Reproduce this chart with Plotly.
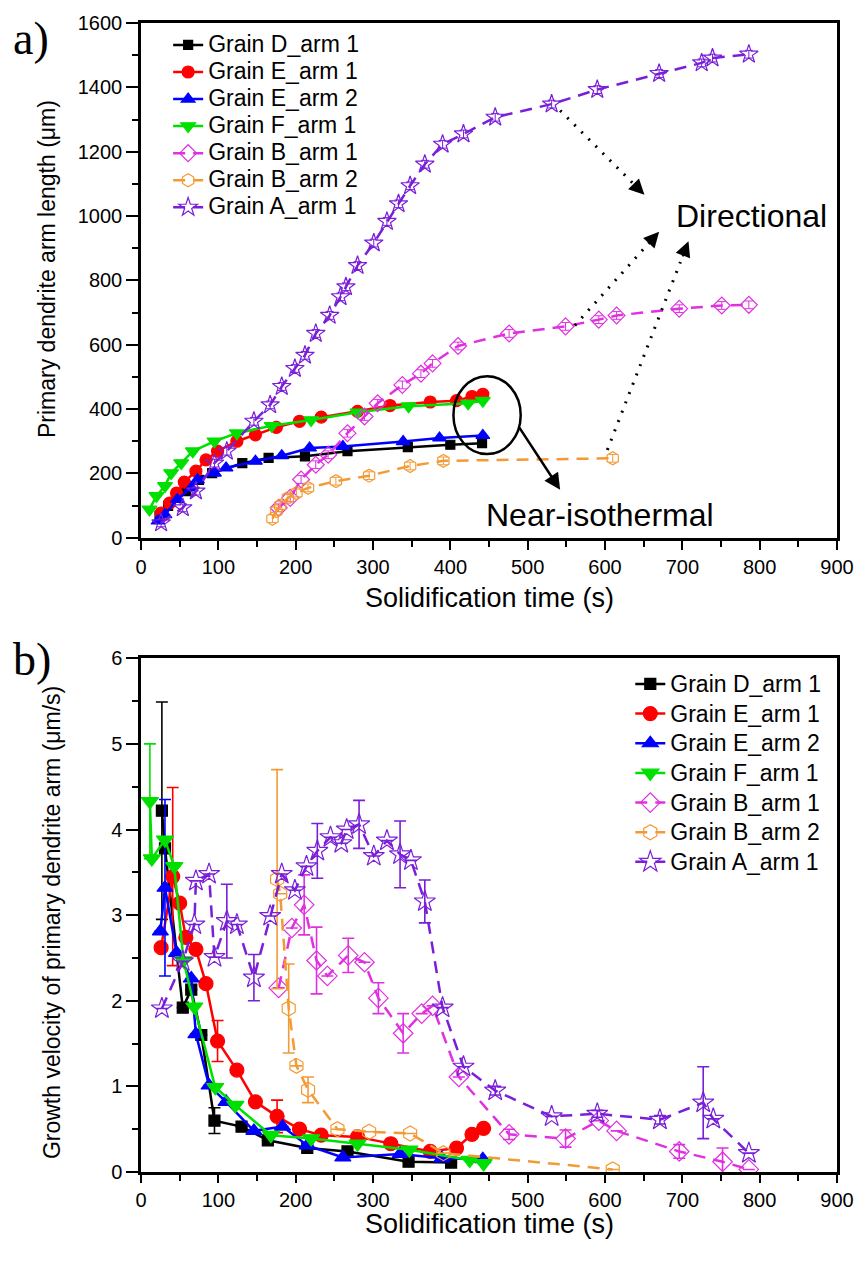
import plotly.graph_objects as go

# ---------------- Panel a: arm length vs time ----------------
names = ["Grain D_arm 1", "Grain E_arm 1", "Grain E_arm 2", "Grain F_arm 1",
         "Grain B_arm 1", "Grain B_arm 2", "Grain A_arm 1"]

a_D_x = [24, 35, 58, 75, 92, 131, 165, 212, 267, 345, 400, 441]
a_D_y = [68, 99, 145, 180, 201, 232, 248, 253, 269, 282, 289, 294]
a_E1_x = [26, 37, 46, 56, 71, 84, 99, 124, 148, 175, 205, 233, 280, 322, 374, 408, 428, 442]
a_E1_y = [77, 108, 139, 173, 207, 242, 269, 300, 320, 343, 362, 375, 393, 411, 422, 426, 439, 446]
a_E2_x = [22, 31, 47, 65, 73, 95, 110, 148, 182, 218, 261, 339, 386, 442]
a_E2_y = [52, 72, 119, 155, 180, 201, 217, 238, 255, 279, 284, 299, 310, 318]
a_F1_x = [11, 20, 31, 39, 52, 67, 95, 124, 169, 220, 280, 346, 423, 442]
a_F1_y = [88, 130, 161, 201, 232, 269, 300, 325, 348, 366, 390, 409, 418, 426]
a_B1_x = [178, 193, 207, 226, 242, 267, 289, 306, 338, 362, 377, 410, 476, 549, 592, 615, 696, 751, 786]
a_B1_y = [93, 124, 181, 227, 258, 325, 377, 418, 475, 510, 542, 596, 635, 657, 678, 691, 712, 722, 724]
a_B2_x = [170, 175, 180, 190, 201, 216, 252, 295, 348, 391, 610]
a_B2_y = [59, 83, 100, 124, 139, 155, 176, 193, 223, 239, 247]
a_A1_x = [26, 54, 71, 95, 111, 146, 167, 182, 199, 212, 226, 244, 258, 265, 280, 301, 318,
          333, 348, 367, 390, 417, 458, 531, 590, 670, 725, 739, 786]
a_A1_y = [46, 93, 145, 232, 269, 362, 413, 470, 526, 567, 635, 691, 749, 780, 846, 916, 983,
          1038, 1094, 1161, 1223, 1255, 1307, 1348, 1393, 1443, 1476, 1491, 1503]
a_open_err = 12  # small error bars on the open markers (um)

# ---------------- Panel b: growth velocity vs time ----------------
b_D_x = [27, 31, 54, 65, 78, 95, 130, 164, 215, 267, 346, 401]
b_D_y = [4.22, 3.78, 1.92, 2.13, 1.60, 0.60, 0.53, 0.37, 0.28, 0.24, 0.12, 0.11]
b_D_e = [1.27, 0, 0, 0, 0, 0.15, 0, 0, 0, 0, 0, 0]
b_E1_x = [26, 41, 50, 58, 71, 84, 99, 124, 148, 176, 205, 233, 280, 323, 374, 408, 428, 443]
b_E1_y = [2.62, 3.45, 3.14, 2.74, 2.60, 2.20, 1.53, 1.19, 0.82, 0.65, 0.50, 0.43, 0.41, 0.33, 0.24, 0.28, 0.44, 0.51]
b_E1_e = [0, 1.04, 0, 0, 0, 0, 0.24, 0, 0, 0.19, 0, 0, 0, 0, 0, 0, 0, 0]
b_E2_x = [25, 31, 46, 65, 71, 88, 110, 146, 183, 215, 261, 335, 389, 442]
b_E2_y = [2.81, 3.32, 2.56, 2.26, 1.61, 1.01, 0.82, 0.48, 0.53, 0.31, 0.17, 0.21, 0.16, 0.15]
b_E2_e = [0, 1.03, 0, 0, 0, 0, 0, 0, 0, 0, 0, 0, 0, 0]
b_F1_x = [11.5, 14, 31, 43, 55, 69, 96, 122, 168, 220, 280, 347, 425, 443]
b_F1_y = [4.33, 3.66, 3.88, 3.57, 2.47, 1.93, 0.99, 0.78, 0.43, 0.39, 0.33, 0.26, 0.14, 0.10]
b_F1_e = [0.67, 0, 0, 0, 0, 0, 0, 0, 0, 0, 0, 0, 0, 0]
b_B1_x = [178, 195, 211, 227, 241, 268, 289, 307, 339, 363, 377, 411, 476, 549, 592, 615, 696, 752, 786]
b_B1_y = [2.15, 2.85, 3.12, 2.47, 2.29, 2.53, 2.45, 2.03, 1.62, 1.85, 1.94, 1.11, 0.44, 0.39, 0.60, 0.48, 0.24, 0.12, 0.03]
b_B1_e = [0, 0, 0.35, 0.39, 0, 0.20, 0, 0.18, 0.23, 0, 0, 0, 0.06, 0.10, 0, 0, 0.08, 0.16, 0]
b_B2_x = [176, 180, 191, 201, 216, 254, 295, 348, 391, 610]
b_B2_y = [3.42, 3.25, 1.91, 1.24, 0.96, 0.50, 0.47, 0.45, 0.22, 0.03]
b_B2_e = [1.28, 0, 0.52, 0, 0.15, 0, 0, 0, 0, 0]
b_A1_x = [27, 54, 69, 71, 88, 95, 111, 124, 146, 167, 182, 199, 214, 228, 245, 259, 266, 282,
          301, 318, 335, 349, 367, 390, 417, 458, 531, 590, 671, 727, 740, 786]
b_A1_y = [1.91, 2.46, 2.89, 3.40, 3.48, 2.51, 2.93, 2.89, 2.27, 2.99, 3.48, 3.29, 3.57, 3.75,
          3.91, 3.84, 4.00, 4.06, 3.69, 3.87, 3.71, 3.64, 3.16, 1.92, 1.23, 0.95, 0.65, 0.68,
          0.61, 0.81, 0.62, 0.22]
b_A1_e = [0, 0, 0, 0, 0, 0, 0.43, 0, 0.27, 0, 0, 0, 0, 0.32, 0, 0, 0, 0.28, 0, 0, 0.39, 0,
          0.25, 0, 0, 0.05, 0, 0.04, 0.05, 0.42, 0, 0]

colors = ["#000000", "#ff0000", "#0000ff", "#00e000", "#e030e0", "#f39a35", "#7a1ed8"]
symbols = ["square", "circle", "triangle-up", "triangle-down", "diamond-open", "hexagon-open", "star-open"]
dashes = [None, None, None, None, "12px,8px", "12px,8px", "12px,8px"]

FONT = "Liberation Sans, Arial, sans-serif"
SERIF = "Liberation Serif, Times New Roman, serif"


def legend_label(name, px):
    return '<span style="font-size:%dpx">%s</span>' % (px, name)


fig = go.Figure()

a_sets = [(a_D_x, a_D_y), (a_E1_x, a_E1_y), (a_E2_x, a_E2_y), (a_F1_x, a_F1_y),
          (a_B1_x, a_B1_y), (a_B2_x, a_B2_y), (a_A1_x, a_A1_y)]
b_sets = [(b_D_x, b_D_y, b_D_e), (b_E1_x, b_E1_y, b_E1_e), (b_E2_x, b_E2_y, b_E2_e),
          (b_F1_x, b_F1_y, b_F1_e), (b_B1_x, b_B1_y, b_B1_e), (b_B2_x, b_B2_y, b_B2_e),
          (b_A1_x, b_A1_y, b_A1_e)]

a_sizes = [9, 12, 12, 13, 13, 13, 14]
b_sizes = [11, 14, 14, 15, 15, 15, 16]

for i, (xs, ys) in enumerate(a_sets):
    opn = i >= 4
    fig.add_trace(go.Scatter(
        x=xs, y=ys, mode="lines+markers", name=legend_label(names[i], 23),
        line=dict(color=colors[i], width=2.5, dash=dashes[i]),
        marker=dict(symbol=symbols[i], size=a_sizes[i], color=colors[i],
                    line=dict(width=1.2, color=colors[i])),
        error_y=dict(type="constant", value=a_open_err, color=colors[i], thickness=1,
                     width=4, visible=opn),
        xaxis="x", yaxis="y", legend="legend", showlegend=True))

for i, (xs, ys, es) in enumerate(b_sets):
    fig.add_trace(go.Scatter(
        x=xs, y=ys, mode="lines+markers", name=legend_label(names[i], 23),
        line=dict(color=colors[i], width=2.5, dash=dashes[i]),
        marker=dict(symbol=symbols[i], size=b_sizes[i], color=colors[i],
                    line=dict(width=1.2, color=colors[i])),
        error_y=dict(type="data", array=es, symmetric=True, color=colors[i],
                     thickness=1.6, width=6),
        xaxis="x2", yaxis="y2", legend="legend2", showlegend=True))

axis_common = dict(showline=True, linecolor="black", linewidth=2.5, mirror=True,
                   ticks="outside", tickwidth=2, tickcolor="black",
                   showgrid=False, zeroline=False,
                   tickfont=dict(family=FONT, size=20, color="black"))
xminor = dict(ticks="outside", ticklen=6, tickwidth=2, tickcolor="black")

fig.update_layout(
    width=866, height=1262,
    margin=dict(l=141, r=21, t=18, b=90),
    paper_bgcolor="white", plot_bgcolor="white",
    font=dict(family=FONT, color="black"),
    xaxis=dict(domain=[0, 1], range=[0, 900], dtick=100, anchor="y", ticklen=9,
               minor=dict(dtick=50, **xminor), **axis_common),
    yaxis=dict(domain=[0.552, 1.0], range=[0, 1600], dtick=200, anchor="x", ticklen=12,
               minor=dict(dtick=100, **xminor), **axis_common),
    xaxis2=dict(domain=[0, 1], range=[0, 900], dtick=100, anchor="y2", ticklen=8,
                minor=dict(dtick=50, **xminor), **axis_common),
    yaxis2=dict(domain=[0, 0.4471], range=[0, 6], dtick=1, anchor="x2", ticklen=12,
                minor=dict(dtick=0.5, **xminor), **axis_common),
    legend=dict(x=0.039, y=0.997, xanchor="left", yanchor="top", bgcolor="rgba(0,0,0,0)",
                font=dict(family=FONT, size=18.5), tracegroupgap=0, itemwidth=30),
    legend2=dict(x=0.703, y=0.442, xanchor="left", yanchor="top", bgcolor="rgba(0,0,0,0)",
                 font=dict(family=FONT, size=20.5), tracegroupgap=0, itemwidth=30),
)


def py(px):
    return (1172 - px) / 1154


def pxx(px):
    return (px - 141) / 704


# axis titles
fig.add_annotation(xref="paper", yref="paper", x=pxx(493), y=py(596), xanchor="center", yanchor="middle",
                   text="Solidification time (s)", showarrow=False,
                   font=dict(family=FONT, size=27, color="black"))
fig.add_annotation(xref="paper", yref="paper", x=pxx(493), y=py(1224), xanchor="center", yanchor="middle",
                   text="Solidification time (s)", showarrow=False,
                   font=dict(family=FONT, size=27, color="black"))
fig.add_annotation(xref="paper", yref="paper", x=pxx(46), y=py(265), xanchor="center", yanchor="middle",
                   textangle=-90, text="Primary dendrite arm length (\u03bcm)", showarrow=False,
                   font=dict(family=FONT, size=23, color="black"))
fig.add_annotation(xref="paper", yref="paper", x=pxx(51), y=py(922), xanchor="center", yanchor="middle",
                   textangle=-90, text="Growth velocity of primary dendrite arm (\u03bcm/s)", showarrow=False,
                   font=dict(family=FONT, size=23, color="black"))

# ---- annotations of panel a ----
dot_arrows = [((542, 1328), (651, 1066)), ((561, 660), (670, 951)), ((603, 273), (708, 922))]
for (x0, y0), (x1, y1) in dot_arrows:
    fig.add_shape(type="line", xref="x", yref="y", x0=x0, y0=y0,
                  x1=x0 + 0.9 * (x1 - x0), y1=y0 + 0.9 * (y1 - y0),
                  line=dict(color="black", width=3, dash="2px,8px"))
    fig.add_annotation(xref="x", yref="y", axref="x", ayref="y", x=x1, y=y1,
                       ax=x0 + 0.92 * (x1 - x0), ay=y0 + 0.92 * (y1 - y0), text="",
                       showarrow=True, arrowhead=2, arrowsize=1.4, arrowwidth=2.2, arrowcolor="black")

fig.add_shape(type="circle", xref="x", yref="y", x0=404, x1=491, y0=260, y1=502,
              line=dict(color="black", width=2.5))
fig.add_annotation(xref="x", yref="y", axref="x", ayref="y", x=542, y=149, ax=488, ay=347,
                   text="", showarrow=True, arrowhead=2, arrowsize=1.3, arrowwidth=2.5,
                   arrowcolor="black")
fig.add_annotation(xref="x", yref="y", x=789, y=1000, text="Directional", showarrow=False,
                   font=dict(family=FONT, size=32, color="black"))
fig.add_annotation(xref="x", yref="y", x=593, y=72, text="Near-isothermal", showarrow=False,
                   font=dict(family=FONT, size=32, color="black"))

# panel labels
fig.add_annotation(xref="paper", yref="paper", x=pxx(10), y=py(6), xanchor="left", yanchor="top",
                   text="a)", showarrow=False, font=dict(family=SERIF, size=46, color="black"))
fig.add_annotation(xref="paper", yref="paper", x=pxx(10), y=py(630), xanchor="left", yanchor="top",
                   text="b)", showarrow=False, font=dict(family=SERIF, size=46, color="black"))

fig.write_html("out.html")
